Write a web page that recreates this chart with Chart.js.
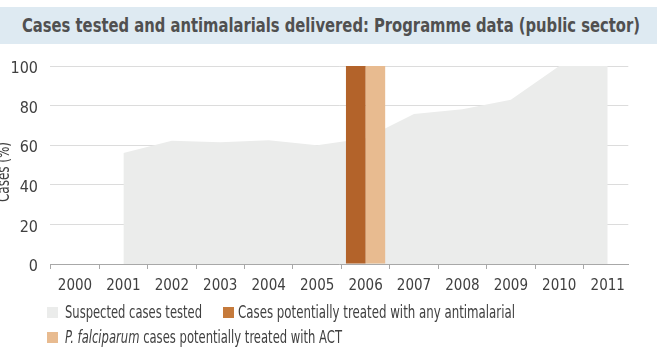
<!DOCTYPE html>
<html>
<head>
<meta charset="utf-8">
<script src="https://cdn.jsdelivr.net/npm/chart.js@4"></script>
<style>
  html, body { margin: 0; padding: 0; width: 660px; height: 351px; overflow: hidden; background: #fff; }
  body { position: relative; font-family: "DejaVu Sans Condensed", "DejaVu Sans", sans-serif; }
  #title { position: absolute; left: 0; top: 7px; width: 657px; height: 37px; background: #deeaf2; }
  .fit { position: absolute; display: inline-block; white-space: nowrap; transform-origin: 0 50%; }
  #title .fit { left: 22px; top: 0; color: #505050; font-weight: bold; font-size: 20px; line-height: 37px; }
  .leg { font-size: 17px; color: #404040; line-height: 20px; }
  .sw { position: absolute; width: 11px; height: 11px; }
  #c { position: absolute; left: 0; top: 0; }
</style>
</head>
<body>
<div id="title"><span class="fit" data-w="618">Cases tested and antimalarials delivered: Programme data (public sector)</span></div>
<canvas id="c" width="660" height="351"></canvas>
<div class="sw" style="left:47px;top:307px;background:#ebeceb"></div>
<span class="fit leg" data-w="137" style="left:65px;top:302px">Suspected cases tested</span>
<div class="sw" style="left:223px;top:307px;background:#c57a3b"></div>
<span class="fit leg" data-w="277" style="left:238px;top:302px">Cases potentially treated with any antimalarial</span>
<div class="sw" style="left:47px;top:332px;background:#e8bb90"></div>
<span class="fit leg" data-w="277" style="left:65px;top:327px"><i>P. falciparum</i> cases potentially treated with ACT</span>
<script>
const years = [2000, 2001, 2002, 2003, 2004, 2005, 2006, 2007, 2008, 2009, 2010, 2011];
const suspectedTested = [null, 56, 62.3, 61.5, 62.5, 60, 63.5, 75.8, 78.2, 82.9, 100, 100];
const anyAntimalarial = [null, null, null, null, null, null, 100, null, null, null, null, null];
const actTreated =      [null, null, null, null, null, null, 100, null, null, null, null, null];
const yTicks = [0, 20, 40, 60, 80, 100];
const yTitle = 'Cases (%)';

document.querySelectorAll('.fit').forEach(el => {
  const w = el.getBoundingClientRect().width;
  el.style.transform = 'scaleX(' + (parseFloat(el.dataset.w) / w) + ')';
});

const toPts = arr => years.map((y, i) => ({ x: y, y: arr[i] })).filter(p => p.y !== null);
const FONT = '"DejaVu Sans Condensed", "DejaVu Sans", sans-serif';

const yTitlePlugin = {
  id: 'yTitle',
  afterDraw(chart) {
    const ctx = chart.ctx;
    ctx.save();
    ctx.font = '17px ' + FONT;
    ctx.fillStyle = '#404040';
    const w = ctx.measureText(yTitle).width;
    ctx.translate(9, 172);
    ctx.rotate(-Math.PI / 2);
    ctx.scale(60 / w, 1);
    ctx.textAlign = 'center';
    ctx.textBaseline = 'alphabetic';
    ctx.fillText(yTitle, 0, 0);
    ctx.restore();
  }
};

new Chart(document.getElementById('c'), {
  type: 'bar',
  data: {
    datasets: [
      { type: 'line', label: 'Suspected cases tested', data: toPts(suspectedTested),
        fill: 'origin', backgroundColor: '#ebeceb', borderWidth: 0, pointRadius: 0, tension: 0, order: 2 },
      { label: 'Cases potentially treated with any antimalarial', data: toPts(anyAntimalarial),
        backgroundColor: '#b3632a', order: 1 },
      { label: 'P. falciparum cases potentially treated with ACT', data: toPts(actTreated),
        backgroundColor: '#e8bb90', order: 1 }
    ]
  },
  plugins: [yTitlePlugin],
  options: {
    responsive: false, animation: false,
    layout: { padding: { left: 0, top: 66, right: 31.7, bottom: 47 } },
    datasets: { bar: { categoryPercentage: 0.81, barPercentage: 1, grouped: true } },
    plugins: { legend: { display: false }, tooltip: { enabled: false } },
    scales: {
      x: {
        type: 'linear', min: 1999.484, max: 2011.425, offset: false,
        afterBuildTicks: s => { s.ticks = years.map(v => ({ value: v })); },
        afterFit: s => { s.height = 40; },
        grid: { drawOnChartArea: false, drawTicks: true, tickLength: 5, color: '#a8a8a8' },
        border: { color: '#a8a8a8', width: 1 },
        ticks: { padding: 8, color: '#404040', font: { family: FONT, size: 15 }, maxRotation: 0, autoSkip: false,
                 callback: v => String(v) }
      },
      y: {
        min: 0, max: 100,
        afterBuildTicks: s => { s.ticks = yTicks.map(v => ({ value: v })); },
        afterFit: s => { s.width = 50; },
        grid: { color: '#dcdcdc', drawTicks: false },
        border: { display: false },
        ticks: { padding: 12, labelOffset: 3, color: '#404040', font: { family: FONT, size: 16 } }
      }
    }
  }
});
</script>
</body>
</html>
